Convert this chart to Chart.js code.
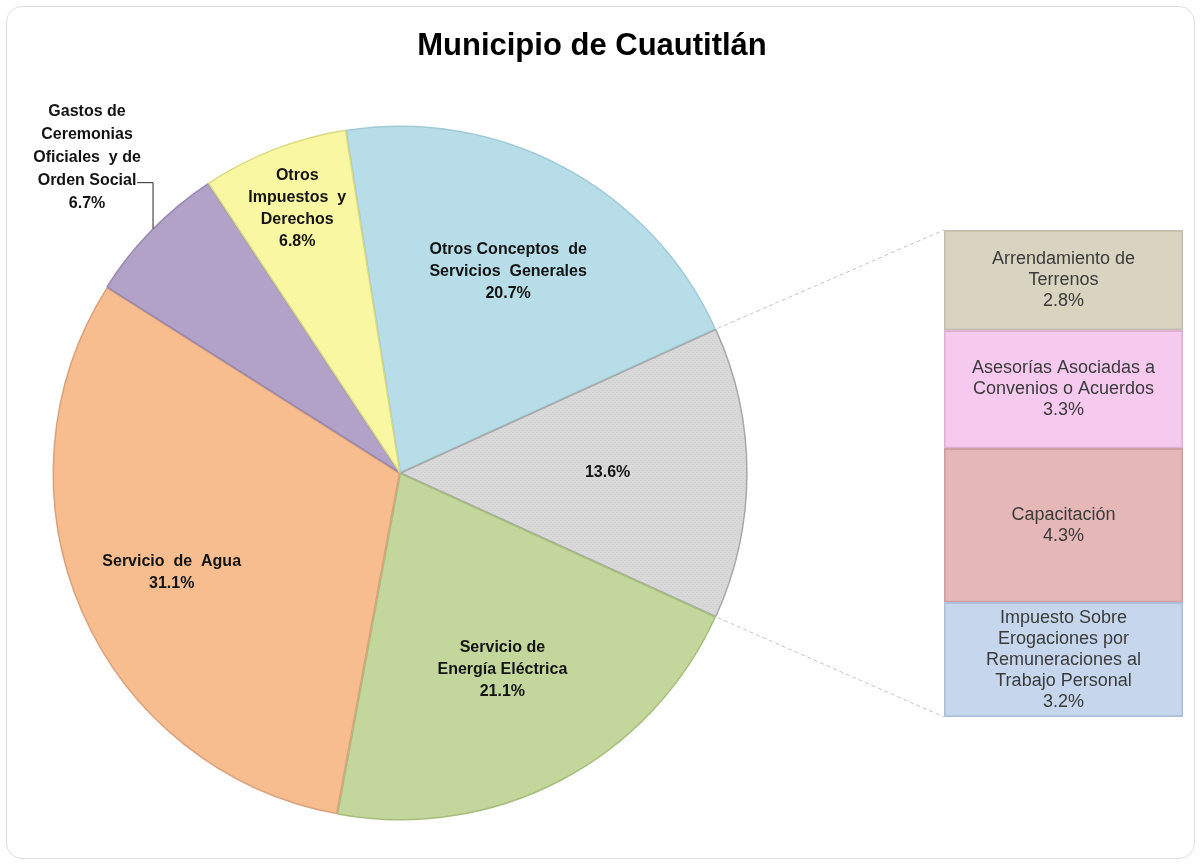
<!DOCTYPE html>
<html>
<head>
<meta charset="utf-8">
<title>Municipio de Cuautitlán</title>
<script src="https://cdn.jsdelivr.net/npm/chart.js@4.4.1/dist/chart.umd.min.js"></script>
<style>
  html, body { margin: 0; padding: 0; background: #fff; }
  #wrap { position: relative; width: 1201px; height: 865px; overflow: hidden; }
  #frame { position: absolute; left: 6px; top: 6px; width: 1187px; height: 851px;
           border: 1px solid #dedede; border-radius: 16px; }
  #pie { position: absolute; left: 0; top: 0; }
  #bar { position: absolute; left: 944px; top: 230px; }
</style>
</head>
<body>
<div id="wrap">
  <div id="frame"></div>
  <canvas id="pie" width="1201" height="865"></canvas>
  <canvas id="bar" width="239" height="487"></canvas>
</div>
<script>
// pie slices, clockwise from just left of the top
const pieNames = ['Otros Conceptos de Servicios Generales', 'Otros', 'Servicio de Energía Eléctrica',
  'Servicio de Agua', 'Gastos de Ceremonias Oficiales y de Orden Social', 'Otros Impuestos y Derechos'];
const pieLines = [
  ['Otros Conceptos  de', 'Servicios  Generales'],
  [],
  ['Servicio de', 'Energía Eléctrica'],
  ['Servicio  de  Agua'],
  ['Gastos de', 'Ceremonias', 'Oficiales  y de', 'Orden Social'],
  ['Otros', 'Impuestos  y', 'Derechos']
];
const pieValues = [20.7, 13.6, 21.1, 31.1, 6.7, 6.8];

// breakdown of the grey slice, top to bottom
const barLines = [
  ['Arrendamiento de', 'Terrenos'],
  ['Asesorías Asociadas a', 'Convenios o Acuerdos'],
  ['Capacitación'],
  ['Impuesto Sobre', 'Erogaciones por', 'Remuneraciones al', 'Trabajo Personal']
];
const barValues = [2.8, 3.3, 4.3, 3.2];

const pieFill = ['#b7dde8', null, '#c3d69b', '#f7bd8f', '#b2a2c8', '#f9f7a2'];
const pieEdge = ['#9fcad6', '#a8a8a8', '#a6bd7c', '#d9a07a', '#9886b0', '#dcd984'];
const labelRadius = [0.66, 0.6, 0.64, 0.72, 0, 0.82];
const barFill = ['#d9d4c0', '#f6c9ef', '#e6b7b7', '#c6d7ed'];
const barEdge = ['#c4bfaa', '#dcb2d6', '#cfa0a0', '#adc0d8'];

// dotted fill for the grey slice
function dotPattern() {
  const c = document.createElement('canvas');
  c.width = 4; c.height = 4;
  const g = c.getContext('2d');
  g.fillStyle = '#d9d9d9';
  g.fillRect(0, 0, 4, 4);
  g.fillStyle = '#cbcbcb';
  g.fillRect(0, 0, 1, 1);
  g.fillRect(2, 2, 1, 1);
  return g.createPattern(c, 'repeat');
}
pieFill[1] = dotPattern();

const barCanvas = document.getElementById('bar');
const barChart = new Chart(barCanvas.getContext('2d'), {
  type: 'bar',
  data: {
    labels: ['Otros'],
    datasets: barValues.map((v, i) => ({
      label: barLines[i].join(' '),
      data: [v],
      backgroundColor: barFill[i],
      borderColor: barEdge[i],
      borderWidth: 2,
      borderSkipped: false,
      barPercentage: 1,
      categoryPercentage: 1
    })).reverse()
  },
  options: {
    responsive: false,
    animation: false,
    layout: { padding: 0 },
    scales: {
      x: { stacked: true, display: false },
      y: { stacked: true, display: false, min: 0, max: barValues.reduce((a, b) => a + b, 0) }
    },
    plugins: { legend: { display: false }, tooltip: { enabled: false } }
  },
  plugins: [{
    id: 'barText',
    afterDatasetsDraw(chart) {
      const ctx = chart.ctx;
      ctx.save();
      ctx.font = '18px "Liberation Sans", Arial, sans-serif';
      ctx.fillStyle = '#3b3b3b';
      ctx.textAlign = 'center';
      ctx.textBaseline = 'middle';
      const n = barValues.length;
      chart.data.datasets.forEach((ds, di) => {
        const i = n - 1 - di;
        const el = chart.getDatasetMeta(di).data[0];
        const lines = barLines[i].concat([barValues[i].toFixed(1) + '%']);
        const lh = 21;
        const mid = (el.y + el.base) / 2;
        lines.forEach((t, k) => {
          ctx.fillText(t, el.x, mid + (k - (lines.length - 1) / 2) * lh);
        });
      });
      ctx.restore();
    }
  }]
});

const pieChart = new Chart(document.getElementById('pie').getContext('2d'), {
  type: 'pie',
  data: {
    labels: pieNames,
    datasets: [{
      data: pieValues,
      backgroundColor: pieFill,
      borderColor: pieEdge,
      borderWidth: 1.5,
      offset: 3
    }]
  },
  options: {
    responsive: false,
    animation: false,
    rotation: -9,
    radius: 346,
    layout: { padding: { left: 0, right: 401, top: 81, bottom: 0 } },
    plugins: { legend: { display: false }, tooltip: { enabled: false } }
  },
  plugins: [{
    id: 'pieText',
    afterDraw(chart) {
      const ctx = chart.ctx;
      const arcs = chart.getDatasetMeta(0).data;
      ctx.save();
      // title
      ctx.fillStyle = '#000';
      ctx.textAlign = 'center';
      ctx.textBaseline = 'middle';
      ctx.font = 'bold 31px "Liberation Sans Narrow", "Liberation Sans", Arial, sans-serif';
      ctx.fillText('Municipio de Cuautitlán', 592, 46);

      // slice labels
      ctx.font = 'bold 16px "Liberation Sans", Arial, sans-serif';
      ctx.fillStyle = '#141414';
      const lh = 22;
      arcs.forEach((a, i) => {
        const mid = (a.startAngle + a.endAngle) / 2;
        const lines = pieLines[i].concat([pieValues[i].toFixed(1) + '%']);
        if (labelRadius[i] > 0) {
          const r = a.outerRadius * labelRadius[i];
          const cx = a.x + Math.cos(mid) * r;
          const cy = a.y + Math.sin(mid) * r;
          lines.forEach((t, k) => ctx.fillText(t, cx, cy + (k - (lines.length - 1) / 2) * lh));
        } else {
          // outside label with leader line
          const ex = a.x + Math.cos(mid) * a.outerRadius;
          const ey = a.y + Math.sin(mid) * a.outerRadius;
          const ly = ey - 48;
          ctx.strokeStyle = '#262626';
          ctx.lineWidth = 1;
          ctx.beginPath();
          ctx.moveTo(ex, ey - 2);
          ctx.lineTo(ex, ly);
          ctx.lineTo(ex - 16, ly);
          ctx.stroke();
          const cx = ex - 66;
          lines.forEach((t, k) => ctx.fillText(t, cx, ly - 2 + (k - 3) * 23));
        }
      });

      // connector lines to the breakdown bar
      const grey = arcs[1];
      const top = barChart.getDatasetMeta(barValues.length - 1).data[0];
      const bottom = barChart.getDatasetMeta(0).data[0];
      const bx = barCanvas.offsetLeft + top.x - top.width / 2;
      const by0 = barCanvas.offsetTop + top.y;
      const by1 = barCanvas.offsetTop + bottom.base;
      const R = grey.outerRadius + 3;
      ctx.strokeStyle = '#c4c4c4';
      ctx.setLineDash([4, 3]);
      ctx.beginPath();
      ctx.moveTo(grey.x + Math.cos(grey.startAngle) * R, grey.y + Math.sin(grey.startAngle) * R);
      ctx.lineTo(bx, by0);
      ctx.moveTo(grey.x + Math.cos(grey.endAngle) * R, grey.y + Math.sin(grey.endAngle) * R);
      ctx.lineTo(bx, by1);
      ctx.stroke();
      ctx.restore();
    }
  }]
});
</script>
</body>
</html>
